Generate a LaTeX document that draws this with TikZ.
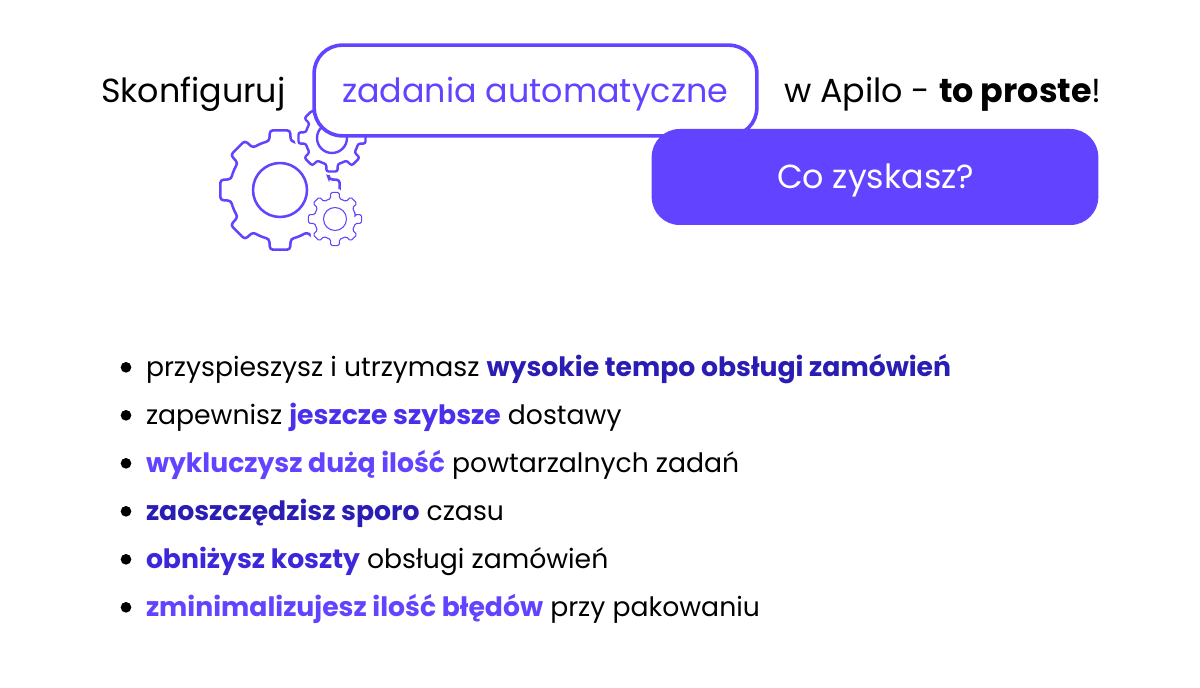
\documentclass[tikz,border=0pt]{standalone}
\usepackage{fontspec}
\setmainfont{Poppins}
\usetikzlibrary{positioning}
\definecolor{apilo}{HTML}{6243FF}
\definecolor{apiloa}{HTML}{2A1DB4}
\definecolor{apilob}{HTML}{4A30EC}
\definecolor{apiloc}{HTML}{3D27DA}
\tikzset{every node/.style={inner sep=0pt,outer sep=0pt},
headline/.style={anchor=base west,font=\fontsize{25}{30}\selectfont},
listline/.style={anchor=base west,font=\fontsize{20}{24}\selectfont},
listdot/.style={circle,fill=black,minimum size=8pt},
pics/gearwheel/.style n args={4}{code={
  \draw[apilo,fill=white,rounded corners=#4,preaction={draw=white,line width=5pt}]
    (-12.5:#2) \foreach \a in {0,45,...,315}{
      -- (\a-9.5:#1) -- (\a+9.5:#1) -- (\a+12.5:#2)
      arc[start angle=\a+12.5,end angle=\a+32.5,radius=#2]
    } -- cycle;
  \draw[apilo] (0,0) circle (#3);
}}
}
\begin{document}
\begin{tikzpicture}[x=0.75pt,y=-0.75pt]
        \useasboundingbox (0,0) rectangle (1200,688);

        % gears
        \pic[line width=1.9pt] (gearbig)   at (280,190) {gearwheel={60.5}{50}{27}{2.2pt}};
        \pic[line width=1.8pt] (gearmid)   at (332,138) {gearwheel={34}{26.5}{15}{1.7pt}};
        \pic[line width=0.8pt] (gearsmall) at (335,219) {gearwheel={27}{20.5}{11.5}{1.2pt}};

        % top row
        \node[draw=apilo,fill=white,line width=2.7pt,rounded corners=21pt,
              minimum width=332pt,minimum height=68pt] (field) at (535.5,90.5) {};
        \node[headline,apilo] (fieldtext) at (342,103) {zadania automatyczne};
        \node[headline] (head1) at (101,103) {Skonfiguruj};
        \node[headline] (head2) at (784,103) {w Apilo - \textbf{to proste}!};
        \node[fill=apilo,rounded corners=21pt,minimum width=335pt,minimum height=72pt] (button) at (875,177) {};
        \node[headline,white] (buttontext) at (777,189) {Co zyskasz?};

        % list
        \node[listline] (line1) at (146,376) {przyspieszysz i utrzymasz \textcolor{apiloa}{\textbf{wysokie tempo obsługi zamówień}}};
        \node[listline,below=36pt of line1.base west,anchor=base west] (line2) {zapewnisz \textcolor{apilob}{\textbf{jeszcze szybsze}} dostawy};
        \node[listline,below=36pt of line2.base west,anchor=base west] (line3) {\textcolor{apilo}{\textbf{wykluczysz dużą ilość}} powtarzalnych zadań};
        \node[listline,below=36pt of line3.base west,anchor=base west] (line4) {\textcolor{apiloa}{\textbf{zaoszczędzisz sporo}} czasu};
        \node[listline,below=36pt of line4.base west,anchor=base west] (line5) {\textcolor{apiloc}{\textbf{obniżysz koszty}} obsługi zamówień};
        \node[listline,below=36pt of line5.base west,anchor=base west] (line6) {\textcolor{apilo}{\textbf{zminimalizujesz ilość błędów}} przy pakowaniu};

        \foreach \n in {1,...,6}
          \node[listdot] (dot\n) at ([xshift=-15pt,yshift=6.5pt]line\n.base west) {};
      \end{tikzpicture}
\end{document}
